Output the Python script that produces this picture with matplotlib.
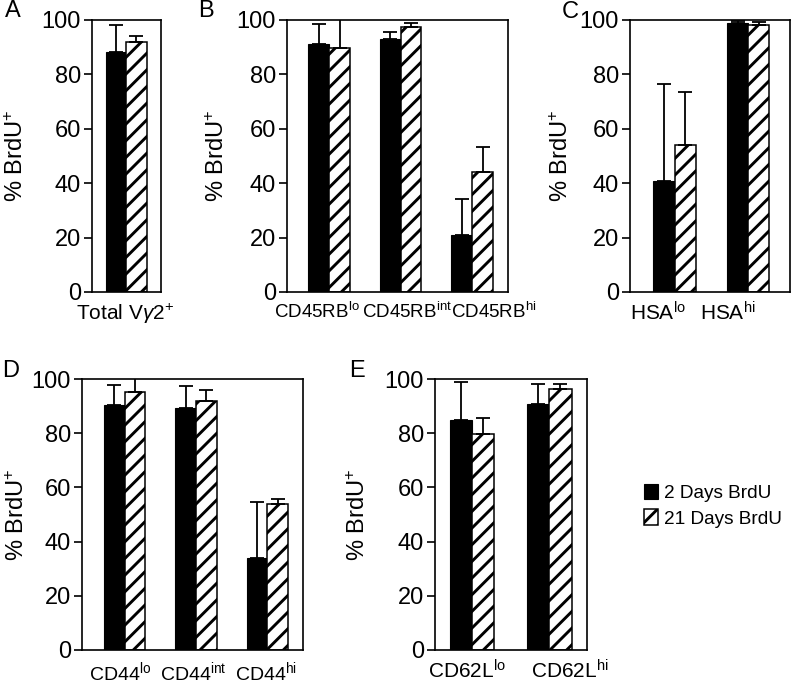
import matplotlib
matplotlib.use("Agg")
import matplotlib.pyplot as plt

plt.rcParams["font.family"] = ["Liberation Sans", "DejaVu Sans"]
plt.rcParams["mathtext.fontset"] = "custom"
plt.rcParams["mathtext.rm"] = "Liberation Sans"
plt.rcParams["mathtext.it"] = "Liberation Sans:italic"
plt.rcParams["hatch.linewidth"] = 2.1

# data (mean, upper error bar length)
a_labels = [r"Total V$\gamma$2$^{+}$"]
a_two = [88.1]
a_two_err = [10.2]
a_21 = [92.0]
a_21_err = [2.1]

b_labels = [r"CD45RB$^{\mathrm{lo}}$", r"CD45RB$^{\mathrm{int}}$", r"CD45RB$^{\mathrm{hi}}$"]
b_two = [91.0, 93.0, 20.8]
b_two_err = [7.4, 2.6, 13.4]
b_21 = [89.6, 97.5, 44.2]
b_21_err = [11.0, 1.3, 9.0]

c_labels = [r"HSA$^{\mathrm{lo}}$", r"HSA$^{\mathrm{hi}}$"]
c_two = [40.7, 98.8]
c_two_err = [35.7, 0.8]
c_21 = [54.2, 98.2]
c_21_err = [19.4, 1.2]

d_labels = [r"CD44$^{\mathrm{lo}}$", r"CD44$^{\mathrm{int}}$", r"CD44$^{\mathrm{hi}}$"]
d_two = [90.4, 89.4, 33.8]
d_two_err = [7.4, 8.1, 20.8]
d_21 = [95.3, 91.8, 54.0]
d_21_err = [5.2, 4.1, 1.6]

e_labels = [r"CD62L$^{\mathrm{lo}}$", r"CD62L$^{\mathrm{hi}}$"]
e_two = [84.9, 90.6]
e_two_err = [14.1, 7.5]
e_21 = [79.7, 96.4]
e_21_err = [5.8, 1.7]

series_names = ["2 Days BrdU", "21 Days BrdU"]

W, H = 792, 683
fig = plt.figure(figsize=(W / 100, H / 100), dpi=100)


def px_axes(x0, y0, x1, y1):
    return fig.add_axes([x0 / W, (H - y1) / H, (x1 - x0) / W, (y1 - y0) / H])


def panel(ax, box, letter, letter_xy, ylabel_px, labels, label_px, label_size,
          two, two_err, d21, d21_err, xlim):
    bw = 0.29
    xs = list(range(len(labels)))
    err_kw = dict(elinewidth=1.3, capthick=1.3, ecolor="black")
    ax.bar([x - bw / 2 for x in xs], two, bw, color="black", edgecolor="black",
           linewidth=0.8, yerr=[[0] * len(two), two_err], capsize=5,
           error_kw=err_kw, label=series_names[0])
    ax.bar([x + bw / 2 for x in xs], d21, bw, color="white", edgecolor="black",
           hatch="//", linewidth=1.1, yerr=[[0] * len(d21), d21_err], capsize=5,
           error_kw=err_kw, label=series_names[1])
    ax.set_xlim(*xlim)
    ax.set_ylim(0, 100)
    ax.set_yticks([0, 20, 40, 60, 80, 100])
    # tick label centres given in pixels, mapped into data units
    x0, x1 = box
    ticks = [xlim[0] + (p - x0) / (x1 - x0) * (xlim[1] - xlim[0]) for p in label_px]
    ax.set_xticks(ticks)
    ax.set_xticklabels(labels, fontsize=label_size)
    ax.tick_params(axis="x", length=0, pad=7)
    ax.tick_params(axis="y", labelsize=17, length=6, width=1.2, direction="out", pad=2)
    for s in ax.spines.values():
        s.set_linewidth(1.2)
    ax.set_ylabel(r"% BrdU$^{+}$", fontsize=17, va="center")
    ax.yaxis.set_label_coords((ylabel_px - x0) / (x1 - x0), 0.5)
    fig.text(letter_xy[0] / W, 1 - letter_xy[1] / H, letter, fontsize=17,
             ha="center", va="center")
    return ax


axA = px_axes(92, 20, 161, 292)
panel(axA, (92, 161), "A", (13, 11), 17, a_labels, [125.5], 15,
      a_two, a_two_err, a_21, a_21_err, (-0.48, 0.49))

axB = px_axes(287, 20, 508, 292)
panel(axB, (287, 508), "B", (206, 11), 218, b_labels, [317, 407, 494], 13.5,
      b_two, b_two_err, b_21, b_21_err, (-0.59, 2.5))

axC = px_axes(630, 20, 790, 292)
panel(axC, (630, 790), "C", (570, 12), 562, c_labels, [658, 728], 15,
      c_two, c_two_err, c_21, c_21_err, (-0.61, 1.57))

axD = px_axes(82, 379, 303, 650)
panel(axD, (82, 303), "D", (11, 371), 18, d_labels, [120, 193, 266], 14,
      d_two, d_two_err, d_21, d_21_err, (-0.6, 2.5))

axE = px_axes(435, 379, 587, 650)
panel(axE, (435, 587), "E", (357, 371), 359, e_labels, [467, 570], 15,
      e_two, e_two_err, e_21, e_21_err, (-0.48, 1.49))

handles, lbls = axE.get_legend_handles_labels()
fig.legend(handles, lbls, loc="upper left", bbox_to_anchor=(636 / W, 1 - 476 / H),
           frameon=False, fontsize=13.7, handlelength=0.75, handleheight=0.85,
           handletextpad=0.3, labelspacing=0.4, borderaxespad=0)

fig.savefig("out.png", dpi=100, facecolor="w")
